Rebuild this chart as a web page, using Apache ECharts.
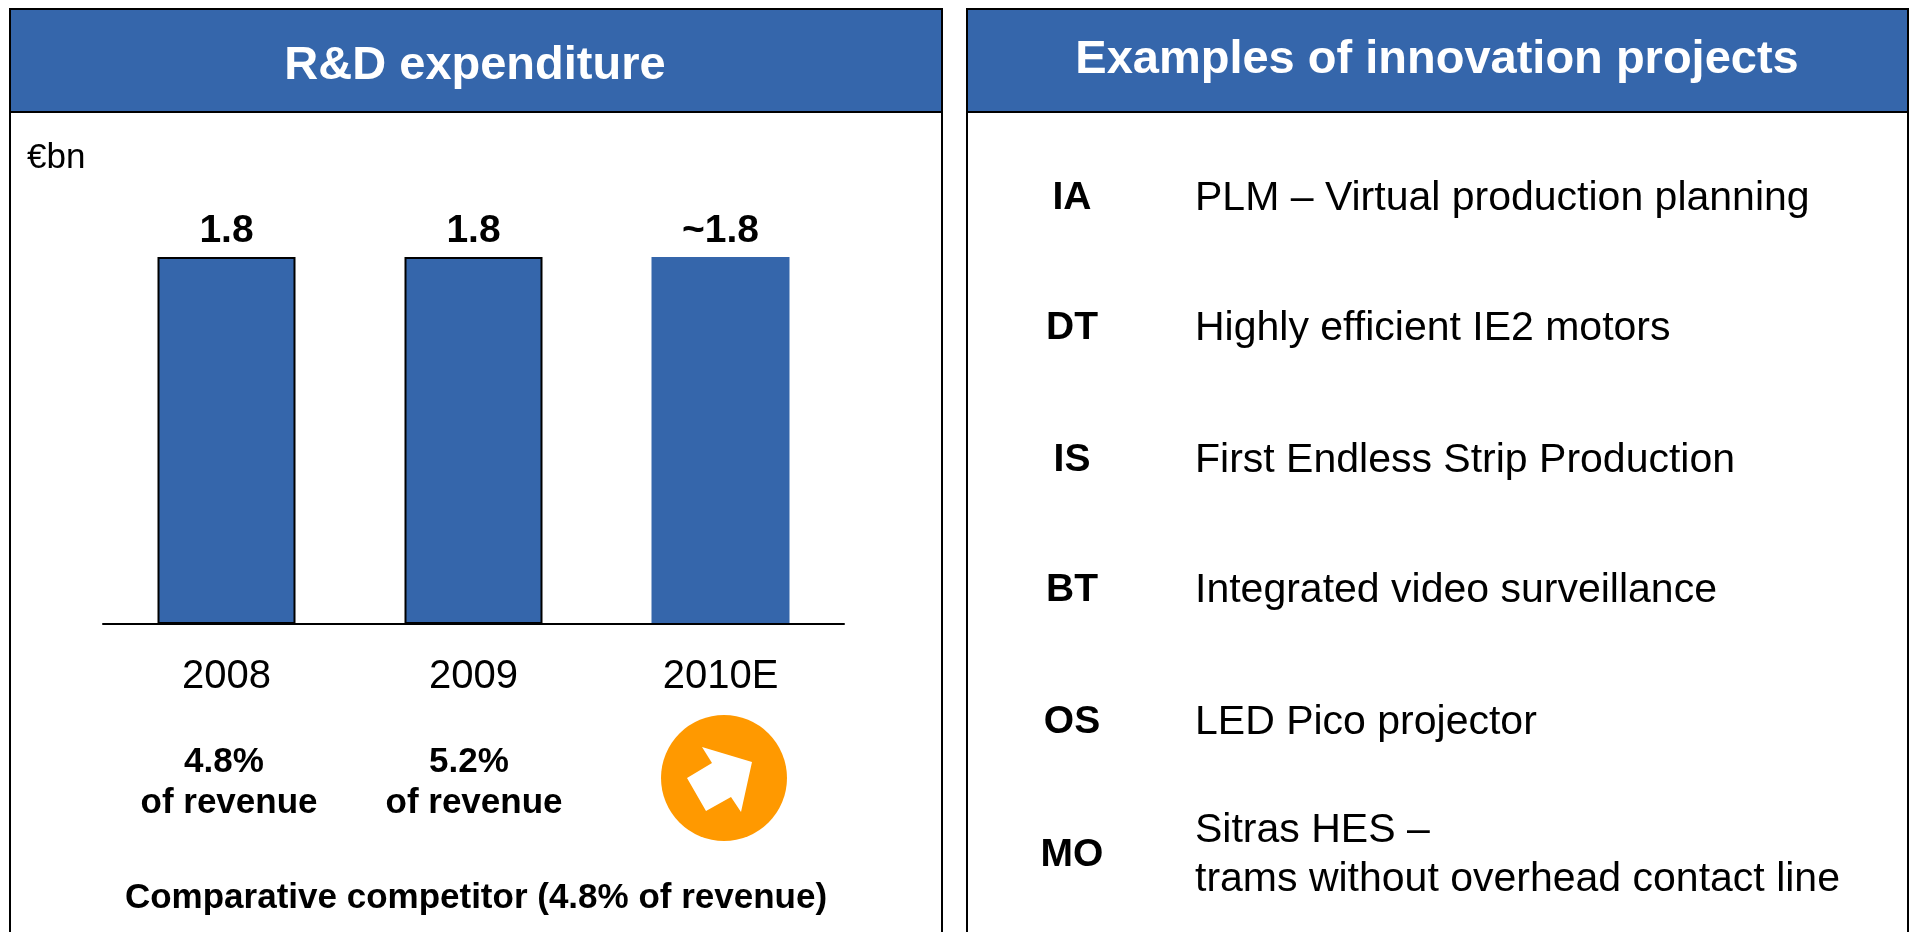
<!DOCTYPE html>
<html lang="en">
<head>
    <meta charset="UTF-8">
    <title>R&amp;D expenditure</title>
    <script src="https://cdn.jsdelivr.net/npm/echarts@6/dist/echarts.min.js"></script>
    <style>
        html, body { margin: 0; padding: 0; background: #fff; overflow: hidden; }
        #main { width: 1910px; height: 932px; }
    </style>
</head>
<body>
    <div id="main"></div>
    <script>
        // chart data
        const years = ['2008', '2009', '2010E'];
        const spend = [1.8, 1.8, 1.8];
        const spendLabels = ['1.8', '1.8', '~1.8'];
        const revenueShares = ['4.8%', '5.2%'];
        const revenueNote = 'of revenue';
        const competitorNote = 'Comparative competitor (4.8% of revenue)';
        const unitLabel = '€bn';
        const leftTitle = 'R&D expenditure';
        const rightTitle = 'Examples of innovation projects';
        const projectCodes = ['IA', 'DT', 'IS', 'BT', 'OS', 'MO'];
        const projectNames = [
            'PLM – Virtual production planning',
            'Highly efficient IE2 motors',
            'First Endless Strip Production',
            'Integrated video surveillance',
            'LED Pico projector',
            'Sitras HES –\ntrams without overhead contact line'
        ];

        const BLUE = '#3566ab';
        const FONT = '"Liberation Sans", Arial, sans-serif';

        function label(x, y, text, size, bold, align, fill) {
            return {
                type: 'text', x: x, y: y, silent: true, z: 10,
                style: {
                    text: text, fill: fill || '#000', font: (bold ? 'bold ' : '') + size + 'px ' + FONT,
                    align: align || 'center', verticalAlign: 'middle', lineHeight: 49
                }
            };
        }

        function panel(x, w, titleText, titleX, titleY) {
            return [
                { type: 'rect', shape: { x: x, y: 9, width: w, height: 1000 }, style: { fill: '#fff', stroke: '#000', lineWidth: 2 }, z: 1 },
                { type: 'rect', shape: { x: x, y: 9, width: w, height: 103 }, style: { fill: BLUE, stroke: '#000', lineWidth: 2 }, z: 2 },
                label(titleX, titleY, titleText, 47, true, 'center', '#fff')
            ];
        }

        const projectRows = [198.5, 328.5, 460.5, 590.5, 722.5, 855.5];
        const elements = [
            ...panel(10, 932, leftTitle, 475, 66),
            ...panel(967, 941, rightTitle, 1437, 60),
            label(27, 158, unitLabel, 35, false, 'left'),
            label(224, 762, revenueShares[0], 35, true),
            label(229, 803, revenueNote, 35, true),
            label(469, 762, revenueShares[1], 35, true),
            label(474, 803, revenueNote, 35, true),
            label(476, 898, competitorNote, 35, true),
            { type: 'circle', shape: { cx: 724, cy: 778, r: 63 }, style: { fill: '#ff9900' }, z: 10 },
            {
                type: 'polygon', z: 11,
                shape: { points: [[702, 747], [752, 762], [741, 812], [731, 797], [706, 811], [687, 778], [712, 763]] },
                style: { fill: '#fff' }
            }
        ];
        projectCodes.forEach((code, i) => {
            elements.push(label(1072, projectRows[i], code, 39, true));
            elements.push(label(1195, projectRows[i], projectNames[i], 41, false, 'left'));
        });

        const chart = echarts.init(document.getElementById('main'));
        chart.setOption({
            animation: false,
            backgroundColor: '#fff',
            textStyle: { fontFamily: FONT },
            grid: { left: 103, width: 741, top: 257, height: 367 },
            xAxis: {
                type: 'category',
                data: years,
                z: 20,
                axisTick: { show: false },
                axisLine: { lineStyle: { color: '#000', width: 2 } },
                axisLabel: { color: '#000', fontSize: 40, margin: 33, fontFamily: FONT }
            },
            yAxis: { type: 'value', min: 0, max: 1.8, show: false },
            graphic: { elements: elements },
            series: [{
                type: 'bar',
                z: 5,
                barWidth: 138,
                data: spend.map((v, i) => ({
                    value: v,
                    itemStyle: i < 2 ? { color: BLUE, borderColor: '#000', borderWidth: 2 } : { color: BLUE }
                })),
                label: {
                    show: true, position: 'top', distance: 6,
                    color: '#000', fontSize: 39, fontWeight: 'bold', fontFamily: FONT,
                    formatter: p => spendLabels[p.dataIndex]
                }
            }]
        });
    </script>
</body>
</html>
